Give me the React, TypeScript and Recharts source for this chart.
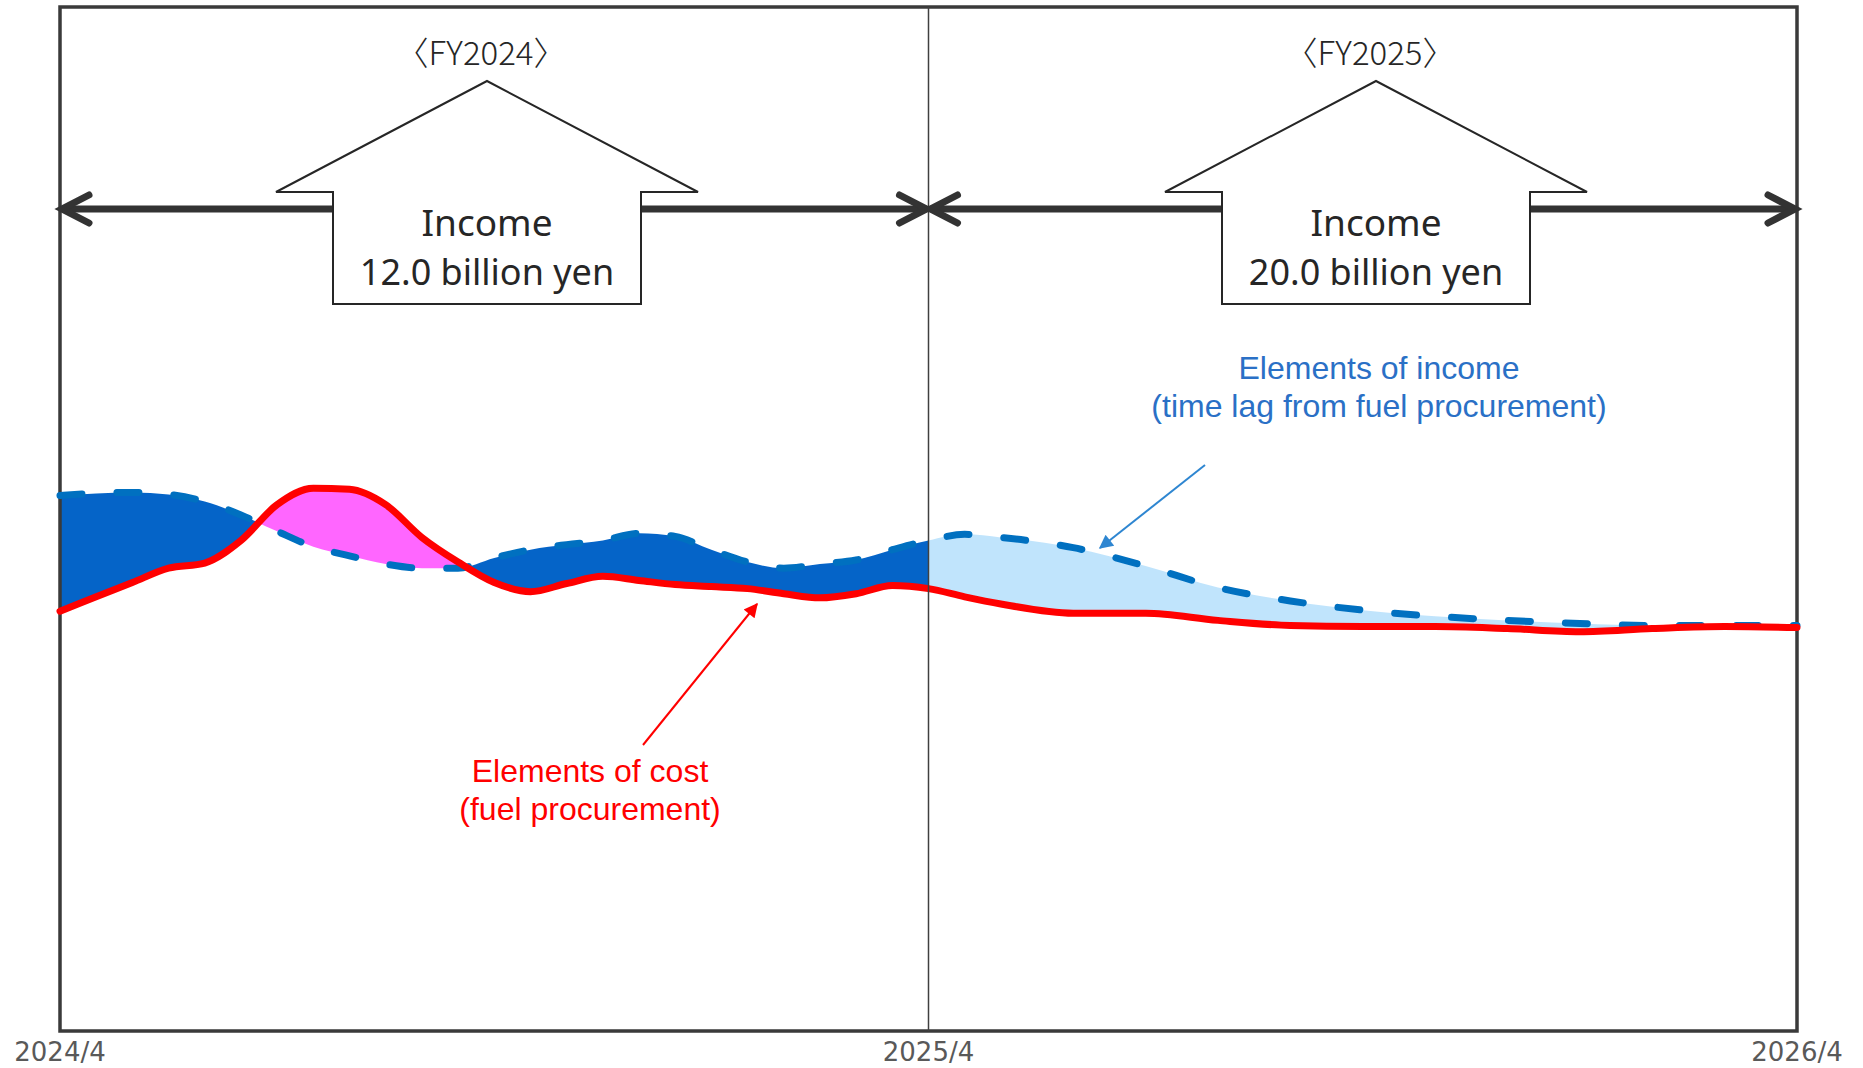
import { Area, ComposedChart, Line, ReferenceArea, ReferenceLine, XAxis, YAxis } from "recharts";

// months counted from 2024/4
const months = [
  0, 0.5, 1, 1.5, 2, 2.5, 3, 3.5, 4, 4.5, 5, 5.5, 6, 6.5, 7, 7.5, 8, 8.5, 9, 9.5, 10, 10.5, 11, 11.5, 12,
  12.5, 13, 14, 15, 16, 17, 18, 19, 20, 21, 22, 23, 24,
];
const income = [
  52.3, 52.5, 52.6, 52.4, 51.7, 50.4, 48.8, 47.3, 46.4, 45.6, 45.2, 45.2, 46.2, 47.0, 47.5, 47.9, 48.6, 48.3,
  47.0, 45.8, 45.2, 45.6, 46.0, 47.0, 47.9, 48.5, 48.2, 47.2, 45.4, 43.3, 42.0, 41.1, 40.5, 40.1, 39.8, 39.6,
  39.6, 39.6,
];
const cost = [
  41.0, 42.4, 43.8, 45.2, 45.7, 47.9, 51.4, 53.0, 52.9, 51.4, 48.2, 45.8, 43.8, 42.9, 43.7, 44.4, 44.0, 43.6,
  43.4, 43.2, 42.7, 42.3, 42.7, 43.5, 43.2, 42.4, 41.7, 40.8, 40.8, 40.1, 39.6, 39.5, 39.5, 39.3, 39.0, 39.3,
  39.5, 39.4,
];
const tickMonths = [0, 12, 24];
const tickLabels = ["2024/4", "2025/4", "2026/4"];

const W = 1863;
const H = 1068;
const PLOT_LEFT = 60;
const PLOT_RIGHT = 1797;
const PLOT_TOP = 7;
const PLOT_BOTTOM = 1031;
const MID = PLOT_LEFT + (PLOT_RIGHT - PLOT_LEFT) / 2;

const DARK_BLUE = "#0564C8";
const MAGENTA = "#FF66FF";
const LIGHT_BLUE = "#C0E4FC";

const rows = months.map((m, i) => ({
  m,
  income: income[i],
  cost: cost[i],
  band: [cost[i], income[i]],
}));

// hard colour stops along the band: blue where income is on top, magenta where cost is,
// light blue for the whole second year
function bandStops() {
  const last = months[months.length - 1];
  const edges: number[] = [0];
  for (let i = 1; i < months.length && months[i] <= 12; i++) {
    const d0 = income[i - 1] - cost[i - 1];
    const d1 = income[i] - cost[i];
    if (d0 * d1 < 0) edges.push(months[i - 1] + ((months[i] - months[i - 1]) * d0) / (d0 - d1));
  }
  edges.push(12);
  const stops: { offset: number; color: string }[] = [];
  for (let k = 0; k < edges.length - 1; k++) {
    const midM = (edges[k] + edges[k + 1]) / 2;
    const j = months.findIndex((v) => v >= midM);
    const color = income[j] - cost[j] >= 0 ? DARK_BLUE : MAGENTA;
    stops.push({ offset: edges[k] / last, color }, { offset: edges[k + 1] / last, color });
  }
  stops.push({ offset: 12 / last, color: LIGHT_BLUE }, { offset: 1, color: LIGHT_BLUE });
  return stops;
}

const houseY = { apex: 81, shoulder: 192, bottom: 304 };

function House({ cx, year, amount }: { cx: number; year: string; amount: string }) {
  const pts = [
    [cx, houseY.apex],
    [cx + 211, houseY.shoulder],
    [cx + 154, houseY.shoulder],
    [cx + 154, houseY.bottom],
    [cx - 154, houseY.bottom],
    [cx - 154, houseY.shoulder],
    [cx - 211, houseY.shoulder],
  ]
    .map((p) => p.join(","))
    .join(" ");
  return (
    <g>
      <text
        x={cx - 6}
        y={51}
        textAnchor="middle"
        dominantBaseline="central"
        fontFamily="'Noto Sans CJK JP', sans-serif"
        fontWeight={300}
        fontSize={33}
        fill="#262626"
      >
        {`〈${year}〉`}
      </text>
      <polygon points={pts} fill="#fff" stroke="#262626" strokeWidth={2} />
      <text x={cx} y={221} textAnchor="middle" dominantBaseline="central" fontFamily="'Noto Sans'" fontSize={37} fill="#262626">
        Income
      </text>
      <text x={cx} y={271} textAnchor="middle" dominantBaseline="central" fontFamily="'Noto Sans'" fontSize={36} fill="#262626">
        {amount}
      </text>
    </g>
  );
}

function DoubleArrow({ x1, x2, y }: { x1: number; x2: number; y: number }) {
  const head = 29;
  const half = 14;
  return (
    <g stroke="#333" strokeWidth={7} strokeLinecap="round" fill="none">
      <line x1={x1 + 2} y1={y} x2={x2 - 2} y2={y} strokeLinecap="butt" />
      <polyline points={`${x1 + head},${y - half} ${x1 + 2},${y} ${x1 + head},${y + half}`} strokeLinejoin="miter" />
      <polyline points={`${x2 - head},${y - half} ${x2 - 2},${y} ${x2 - head},${y + half}`} strokeLinejoin="miter" />
    </g>
  );
}

function Annotations() {
  return (
    <svg width={W} height={H} style={{ position: "absolute", left: 0, top: 0, pointerEvents: "none" }}>
      <defs>
        <marker id="tipBlue" viewBox="0 0 10 10" refX="9" refY="5" markerWidth="8" markerHeight="7" orient="auto">
          <path d="M0,0 L10,5 L0,10 z" fill="#2E86D1" />
        </marker>
        <marker id="tipRed" viewBox="0 0 10 10" refX="9" refY="5" markerWidth="8" markerHeight="7" orient="auto">
          <path d="M0,0 L10,5 L0,10 z" fill="#FF0000" />
        </marker>
      </defs>
      <DoubleArrow x1={PLOT_LEFT} x2={MID} y={209} />
      <DoubleArrow x1={MID} x2={PLOT_RIGHT} y={209} />
      <House cx={487} year="FY2024" amount="12.0 billion yen" />
      <House cx={1376} year="FY2025" amount="20.0 billion yen" />

      <g fontFamily="'Liberation Sans', Arial, sans-serif" fontSize={32} textAnchor="middle" dominantBaseline="central">
        <text x={1379} y={368} fill="#2A70C6">
          Elements of income
        </text>
        <text x={1379} y={406} fill="#2A70C6">
          (time lag from fuel procurement)
        </text>
        <text x={590} y={771} fill="#FF0000">
          Elements of cost
        </text>
        <text x={590} y={809} fill="#FF0000">
          (fuel procurement)
        </text>
      </g>
      <line x1={1205} y1={465} x2={1100} y2={548} stroke="#2E86D1" strokeWidth={2} markerEnd="url(#tipBlue)" />
      <line x1={643} y1={745} x2={757} y2={604} stroke="#FF0000" strokeWidth={2} markerEnd="url(#tipRed)" />
    </svg>
  );
}

export default function App() {
  const stops = bandStops();
  return (
    <div style={{ position: "absolute", left: 0, top: 0, width: W, height: H, background: "#fff" }}>
      <svg width={0} height={0} style={{ position: "absolute" }}>
        <defs>
          <linearGradient id="bandFill" x1="0" y1="0" x2="1" y2="0">
            {stops.map((s, i) => (
              <stop key={i} offset={s.offset} stopColor={s.color} />
            ))}
          </linearGradient>
        </defs>
      </svg>
      <ComposedChart
        width={W}
        height={H}
        data={rows}
        margin={{ top: PLOT_TOP, right: W - PLOT_RIGHT, left: PLOT_LEFT, bottom: 0 }}
      >
        <XAxis
          dataKey="m"
          type="number"
          domain={[0, 24]}
          ticks={tickMonths}
          tickFormatter={(v: number) => tickLabels[tickMonths.indexOf(v)]}
          height={H - PLOT_BOTTOM}
          axisLine={false}
          tickLine={false}
          tickMargin={6}
          interval={0}
          tick={{ fontSize: 26, fontFamily: "'DejaVu Sans'", fill: "#595959" }}
        />
        <YAxis type="number" domain={[0, 100]} hide />
        <Area
          dataKey="band"
          type="monotone"
          fill="url(#bandFill)"
          fillOpacity={1}
          stroke="none"
          isAnimationActive={false}
        />
        <Line
          dataKey="income"
          type="monotone"
          stroke="#0070C0"
          strokeWidth={7}
          strokeDasharray="22 35"
          strokeLinecap="round"
          dot={false}
          isAnimationActive={false}
        />
        <Line
          dataKey="cost"
          type="monotone"
          stroke="#FF0000"
          strokeWidth={7}
          strokeLinecap="round"
          dot={false}
          isAnimationActive={false}
        />
        <ReferenceLine x={12} stroke="#404040" strokeWidth={1.5} />
        <ReferenceArea x1={0} x2={24} y1={0} y2={100} fill="none" stroke="#3A3A3A" strokeWidth={3.5} />
      </ComposedChart>
      <Annotations />
    </div>
  );
}
